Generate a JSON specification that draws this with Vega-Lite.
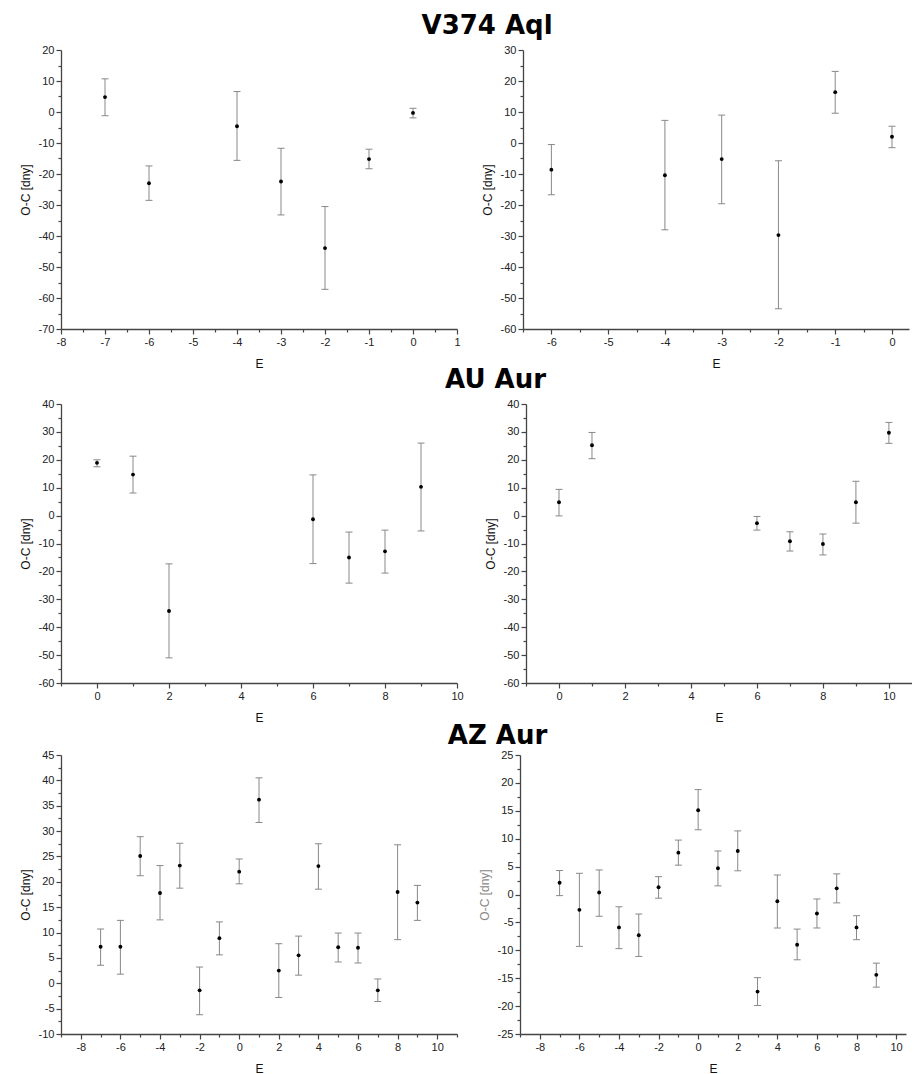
{
  "$schema": "https://vega.github.io/schema/vega-lite/v6.json",
  "padding": {"left": 19, "top": 13, "right": 0, "bottom": 0},
  "background": "white",
  "spacing": -2,
  "config": {
    "view": {"stroke": null},
    "font": "Liberation Sans",
    "axis": {
      "grid": false,
      "domainColor": "#444",
      "domainWidth": 1.3,
      "tickColor": "#444",
      "tickWidth": 1.2,
      "labelFont": "Liberation Sans",
      "labelFontSize": 11,
      "labelColor": "#222",
      "labelPadding": 2,
      "labelFlush": false,
      "labelOverlap": false,
      "titleFont": "Liberation Sans",
      "titleFontSize": 12,
      "titleFontWeight": "normal",
      "titleColor": "#111"
    },
    "axisY": {"titlePadding": 6},
    "axisX": {"titlePadding": 11},
    "title": {"font": "DejaVu Sans", "fontSize": 26, "fontWeight": "bold", "color": "#000", "anchor": "middle", "frame": "bounds", "offset": 5}
  },
  "datasets": {
    "oc": [
      {"star": "V374 Aql", "side": "L", "E": -7, "oc": 4.8, "lo": -1.2, "hi": 10.7},
      {"star": "V374 Aql", "side": "L", "E": -6, "oc": -23.0, "lo": -28.5, "hi": -17.4},
      {"star": "V374 Aql", "side": "L", "E": -4, "oc": -4.6, "lo": -15.6, "hi": 6.6},
      {"star": "V374 Aql", "side": "L", "E": -3, "oc": -22.4, "lo": -33.2, "hi": -11.7},
      {"star": "V374 Aql", "side": "L", "E": -2, "oc": -43.9, "lo": -57.2, "hi": -30.5},
      {"star": "V374 Aql", "side": "L", "E": -1, "oc": -15.2, "lo": -18.3, "hi": -12.0},
      {"star": "V374 Aql", "side": "L", "E": 0, "oc": -0.3, "lo": -1.9, "hi": 1.2},
      {"star": "V374 Aql", "side": "R", "E": -6, "oc": -8.6, "lo": -16.7, "hi": -0.5},
      {"star": "V374 Aql", "side": "R", "E": -4, "oc": -10.4, "lo": -28.0, "hi": 7.3},
      {"star": "V374 Aql", "side": "R", "E": -3, "oc": -5.2, "lo": -19.6, "hi": 9.0},
      {"star": "V374 Aql", "side": "R", "E": -2, "oc": -29.7, "lo": -53.5, "hi": -5.7},
      {"star": "V374 Aql", "side": "R", "E": -1, "oc": 16.4, "lo": 9.6, "hi": 23.1},
      {"star": "V374 Aql", "side": "R", "E": 0, "oc": 2.0, "lo": -1.5, "hi": 5.4},
      {"star": "AU Aur", "side": "L", "E": 0, "oc": 18.9, "lo": 17.5, "hi": 20.0},
      {"star": "AU Aur", "side": "L", "E": 1, "oc": 14.7, "lo": 8.1, "hi": 21.3},
      {"star": "AU Aur", "side": "L", "E": 2, "oc": -34.2, "lo": -51.0, "hi": -17.3},
      {"star": "AU Aur", "side": "L", "E": 6, "oc": -1.3, "lo": -17.2, "hi": 14.6},
      {"star": "AU Aur", "side": "L", "E": 7, "oc": -15.0, "lo": -24.2, "hi": -5.9},
      {"star": "AU Aur", "side": "L", "E": 8, "oc": -12.8, "lo": -20.6, "hi": -5.2},
      {"star": "AU Aur", "side": "L", "E": 9, "oc": 10.3, "lo": -5.5, "hi": 26.0},
      {"star": "AU Aur", "side": "R", "E": 0, "oc": 4.8, "lo": -0.1, "hi": 9.4},
      {"star": "AU Aur", "side": "R", "E": 1, "oc": 25.2, "lo": 20.4, "hi": 29.8},
      {"star": "AU Aur", "side": "R", "E": 6, "oc": -2.7, "lo": -5.2, "hi": -0.3},
      {"star": "AU Aur", "side": "R", "E": 7, "oc": -9.2, "lo": -12.7, "hi": -5.8},
      {"star": "AU Aur", "side": "R", "E": 8, "oc": -10.2, "lo": -14.1, "hi": -6.6},
      {"star": "AU Aur", "side": "R", "E": 9, "oc": 4.8, "lo": -2.7, "hi": 12.3},
      {"star": "AU Aur", "side": "R", "E": 10, "oc": 29.7, "lo": 25.9, "hi": 33.4},
      {"star": "AZ Aur", "side": "L", "E": -7, "oc": 7.2, "lo": 3.55, "hi": 10.7},
      {"star": "AZ Aur", "side": "L", "E": -6, "oc": 7.2, "lo": 1.8, "hi": 12.4},
      {"star": "AZ Aur", "side": "L", "E": -5, "oc": 25.1, "lo": 21.2, "hi": 28.9},
      {"star": "AZ Aur", "side": "L", "E": -4, "oc": 17.8, "lo": 12.5, "hi": 23.2},
      {"star": "AZ Aur", "side": "L", "E": -3, "oc": 23.2, "lo": 18.75, "hi": 27.6},
      {"star": "AZ Aur", "side": "L", "E": -2, "oc": -1.4, "lo": -6.2, "hi": 3.2},
      {"star": "AZ Aur", "side": "L", "E": -1, "oc": 8.9, "lo": 5.6, "hi": 12.1},
      {"star": "AZ Aur", "side": "L", "E": 0, "oc": 22.0, "lo": 19.6, "hi": 24.5},
      {"star": "AZ Aur", "side": "L", "E": 1, "oc": 36.2, "lo": 31.7, "hi": 40.5},
      {"star": "AZ Aur", "side": "L", "E": 2, "oc": 2.5, "lo": -2.8, "hi": 7.8},
      {"star": "AZ Aur", "side": "L", "E": 3, "oc": 5.5, "lo": 1.6, "hi": 9.3},
      {"star": "AZ Aur", "side": "L", "E": 4, "oc": 23.1, "lo": 18.55, "hi": 27.5},
      {"star": "AZ Aur", "side": "L", "E": 5, "oc": 7.1, "lo": 4.2, "hi": 9.9},
      {"star": "AZ Aur", "side": "L", "E": 6, "oc": 7.0, "lo": 4.0, "hi": 9.9},
      {"star": "AZ Aur", "side": "L", "E": 7, "oc": -1.4, "lo": -3.6, "hi": 0.85},
      {"star": "AZ Aur", "side": "L", "E": 8, "oc": 18.0, "lo": 8.6, "hi": 27.3},
      {"star": "AZ Aur", "side": "L", "E": 9, "oc": 15.9, "lo": 12.4, "hi": 19.3},
      {"star": "AZ Aur", "side": "R", "E": -7, "oc": 2.1, "lo": -0.2, "hi": 4.3},
      {"star": "AZ Aur", "side": "R", "E": -6, "oc": -2.75, "lo": -9.3, "hi": 3.8},
      {"star": "AZ Aur", "side": "R", "E": -5, "oc": 0.36, "lo": -3.9, "hi": 4.4},
      {"star": "AZ Aur", "side": "R", "E": -4, "oc": -5.9, "lo": -9.7, "hi": -2.2},
      {"star": "AZ Aur", "side": "R", "E": -3, "oc": -7.3, "lo": -11.1, "hi": -3.5},
      {"star": "AZ Aur", "side": "R", "E": -2, "oc": 1.3, "lo": -0.66, "hi": 3.2},
      {"star": "AZ Aur", "side": "R", "E": -1, "oc": 7.5, "lo": 5.26, "hi": 9.75},
      {"star": "AZ Aur", "side": "R", "E": 0, "oc": 15.1, "lo": 11.6, "hi": 18.8},
      {"star": "AZ Aur", "side": "R", "E": 1, "oc": 4.7, "lo": 1.55, "hi": 7.8},
      {"star": "AZ Aur", "side": "R", "E": 2, "oc": 7.8, "lo": 4.25, "hi": 11.4},
      {"star": "AZ Aur", "side": "R", "E": 3, "oc": -17.4, "lo": -19.9, "hi": -14.9},
      {"star": "AZ Aur", "side": "R", "E": 4, "oc": -1.2, "lo": -6.0, "hi": 3.5},
      {"star": "AZ Aur", "side": "R", "E": 5, "oc": -9.0, "lo": -11.7, "hi": -6.2},
      {"star": "AZ Aur", "side": "R", "E": 6, "oc": -3.4, "lo": -6.0, "hi": -0.8},
      {"star": "AZ Aur", "side": "R", "E": 7, "oc": 1.1, "lo": -1.5, "hi": 3.7},
      {"star": "AZ Aur", "side": "R", "E": 8, "oc": -5.9, "lo": -8.1, "hi": -3.8},
      {"star": "AZ Aur", "side": "R", "E": 9, "oc": -14.4, "lo": -16.6, "hi": -12.3}
    ]
  },
  "data": {"name": "oc"},
  "vconcat": [
    {
      "title": {"text": "V374 Aql", "anchor": "middle", "frame": "bounds", "dx": 23},
      "spacing": 20,
      "hconcat": [
        {
          "width": 396, "height": 279,
          "transform": [{"filter": "datum.star === 'V374 Aql' && datum.side === 'L'"}],
          "resolve": {"axis": {"y": "independent"}},
          "encoding": {
            "x": {"field": "E", "type": "quantitative", "title": "E",
              "scale": {"domain": [-8, 1], "nice": false, "zero": false},
              "axis": {"values": [-8,-7.5,-7,-6.5,-6,-5.5,-5,-4.5,-4,-3.5,-3,-2.5,-2,-1.5,-1,-0.5,0,0.5,1], "labelOverlap": false,
                "labelExpr": "datum.value % 1 === 0 ? '' + datum.value : ''",
                "tickSize": {"condition": {"test": "datum.value % 1 === 0", "value": 5}, "value": 3}}}
          },
          "layer": [
            {"mark": {"type": "rule", "color": "#888", "strokeWidth": 1},
             "encoding": {"y": {"field": "lo", "type": "quantitative", "title": "O-C [dny]",
               "scale": {"domain": [-70, 20], "nice": false, "zero": false},
               "axis": {"orient": "left", "values": [-70,-65,-60,-55,-50,-45,-40,-35,-30,-25,-20,-15,-10,-5,0,5,10,15,20], "labelOverlap": false,
                 "labelExpr": "datum.value % 10 === 0 ? '' + datum.value : ''",
                 "tickSize": {"condition": {"test": "datum.value % 10 === 0", "value": 5}, "value": 3}}},
               "y2": {"field": "hi"}}},
            {"mark": {"type": "tick", "orient": "horizontal", "color": "#888", "size": 7, "thickness": 1, "opacity": 1},
             "encoding": {"y": {"field": "lo", "type": "quantitative", "axis": null}}},
            {"mark": {"type": "tick", "orient": "horizontal", "color": "#888", "size": 7, "thickness": 1, "opacity": 1},
             "encoding": {"y": {"field": "hi", "type": "quantitative", "axis": null}}},
            {"mark": {"type": "point", "filled": true, "color": "#000", "size": 15, "opacity": 1},
             "encoding": {"y": {"field": "oc", "type": "quantitative", "axis": null}}}
          ]
        },
        {
          "width": 386, "height": 279,
          "transform": [{"filter": "datum.star === 'V374 Aql' && datum.side === 'R'"}],
          "resolve": {"axis": {"y": "independent"}},
          "encoding": {
            "x": {"field": "E", "type": "quantitative", "title": "E",
              "scale": {"domain": [-6.5, 0.3], "nice": false, "zero": false},
              "axis": {"values": [-6.5,-6,-5.5,-5,-4.5,-4,-3.5,-3,-2.5,-2,-1.5,-1,-0.5,0], "labelOverlap": false,
                "labelExpr": "datum.value % 1 === 0 ? '' + datum.value : ''",
                "tickSize": {"condition": {"test": "datum.value % 1 === 0", "value": 5}, "value": 3}}}
          },
          "layer": [
            {"mark": {"type": "rule", "color": "#888", "strokeWidth": 1},
             "encoding": {"y": {"field": "lo", "type": "quantitative", "title": "O-C [dny]",
               "scale": {"domain": [-60, 30], "nice": false, "zero": false},
               "axis": {"orient": "left", "values": [-60,-55,-50,-45,-40,-35,-30,-25,-20,-15,-10,-5,0,5,10,15,20,25,30], "labelOverlap": false,
                 "labelExpr": "datum.value % 10 === 0 ? '' + datum.value : ''",
                 "tickSize": {"condition": {"test": "datum.value % 10 === 0", "value": 5}, "value": 3}}},
               "y2": {"field": "hi"}}},
            {"mark": {"type": "tick", "orient": "horizontal", "color": "#888", "size": 7, "thickness": 1, "opacity": 1},
             "encoding": {"y": {"field": "lo", "type": "quantitative", "axis": null}}},
            {"mark": {"type": "tick", "orient": "horizontal", "color": "#888", "size": 7, "thickness": 1, "opacity": 1},
             "encoding": {"y": {"field": "hi", "type": "quantitative", "axis": null}}},
            {"mark": {"type": "point", "filled": true, "color": "#000", "size": 15, "opacity": 1},
             "encoding": {"y": {"field": "oc", "type": "quantitative", "axis": null}}}
          ]
        }
      ]
    },
    {
      "spacing": 0,
      "vconcat": [
        {
          "title": {"text": "AU Aur", "anchor": "middle", "frame": "bounds", "dx": 30},
          "spacing": 20,
          "hconcat": [
            {
              "width": 396, "height": 279,
              "transform": [{"filter": "datum.star === 'AU Aur' && datum.side === 'L'"}],
              "resolve": {"axis": {"y": "independent"}},
              "encoding": {
                "x": {"field": "E", "type": "quantitative", "title": "E",
                  "scale": {"domain": [-1, 10], "nice": false, "zero": false},
                  "axis": {"values": [-1,0,1,2,3,4,5,6,7,8,9,10], "labelOverlap": false,
                    "labelExpr": "datum.value % 2 === 0 ? '' + datum.value : ''",
                    "tickSize": {"condition": {"test": "datum.value % 2 === 0", "value": 5}, "value": 3}}}
              },
              "layer": [
                {"mark": {"type": "rule", "color": "#888", "strokeWidth": 1},
                 "encoding": {"y": {"field": "lo", "type": "quantitative", "title": "O-C [dny]",
                   "scale": {"domain": [-60, 40], "nice": false, "zero": false},
                   "axis": {"orient": "left", "values": [-60,-55,-50,-45,-40,-35,-30,-25,-20,-15,-10,-5,0,5,10,15,20,25,30,35,40], "labelOverlap": false,
                     "labelExpr": "datum.value % 10 === 0 ? '' + datum.value : ''",
                     "tickSize": {"condition": {"test": "datum.value % 10 === 0", "value": 5}, "value": 3}}},
                   "y2": {"field": "hi"}}},
                {"mark": {"type": "tick", "orient": "horizontal", "color": "#888", "size": 7, "thickness": 1, "opacity": 1},
                 "encoding": {"y": {"field": "lo", "type": "quantitative", "axis": null}}},
                {"mark": {"type": "tick", "orient": "horizontal", "color": "#888", "size": 7, "thickness": 1, "opacity": 1},
                 "encoding": {"y": {"field": "hi", "type": "quantitative", "axis": null}}},
                {"mark": {"type": "point", "filled": true, "color": "#000", "size": 15, "opacity": 1},
                 "encoding": {"y": {"field": "oc", "type": "quantitative", "axis": null}}}
              ]
            },
            {
              "width": 386, "height": 279,
              "transform": [{"filter": "datum.star === 'AU Aur' && datum.side === 'R'"}],
              "resolve": {"axis": {"y": "independent"}},
              "encoding": {
                "x": {"field": "E", "type": "quantitative", "title": "E",
                  "scale": {"domain": [-1, 10.7], "nice": false, "zero": false},
                  "axis": {"values": [-1,0,1,2,3,4,5,6,7,8,9,10], "labelOverlap": false,
                    "labelExpr": "datum.value % 2 === 0 ? '' + datum.value : ''",
                    "tickSize": {"condition": {"test": "datum.value % 2 === 0", "value": 5}, "value": 3}}}
              },
              "layer": [
                {"mark": {"type": "rule", "color": "#888", "strokeWidth": 1},
                 "encoding": {"y": {"field": "lo", "type": "quantitative", "title": "O-C [dny]",
                   "scale": {"domain": [-60, 40], "nice": false, "zero": false},
                   "axis": {"orient": "left", "values": [-60,-55,-50,-45,-40,-35,-30,-25,-20,-15,-10,-5,0,5,10,15,20,25,30,35,40], "labelOverlap": false,
                     "labelExpr": "datum.value % 10 === 0 ? '' + datum.value : ''",
                     "tickSize": {"condition": {"test": "datum.value % 10 === 0", "value": 5}, "value": 3}}},
                   "y2": {"field": "hi"}}},
                {"mark": {"type": "tick", "orient": "horizontal", "color": "#888", "size": 7, "thickness": 1, "opacity": 1},
                 "encoding": {"y": {"field": "lo", "type": "quantitative", "axis": null}}},
                {"mark": {"type": "tick", "orient": "horizontal", "color": "#888", "size": 7, "thickness": 1, "opacity": 1},
                 "encoding": {"y": {"field": "hi", "type": "quantitative", "axis": null}}},
                {"mark": {"type": "point", "filled": true, "color": "#000", "size": 15, "opacity": 1},
                 "encoding": {"y": {"field": "oc", "type": "quantitative", "axis": null}}}
              ]
            }
          ]
        },
        {
          "title": {"text": "AZ Aur", "anchor": "middle", "frame": "bounds", "dx": 35, "dy": 5},
          "spacing": 20,
          "hconcat": [
            {
              "width": 396, "height": 279,
              "transform": [{"filter": "datum.star === 'AZ Aur' && datum.side === 'L'"}],
              "resolve": {"axis": {"y": "independent"}},
              "encoding": {
                "x": {"field": "E", "type": "quantitative", "title": "E",
                  "scale": {"domain": [-9, 11], "nice": false, "zero": false},
                  "axis": {"values": [-9,-8,-7,-6,-5,-4,-3,-2,-1,0,1,2,3,4,5,6,7,8,9,10,11], "labelOverlap": false,
                    "labelExpr": "datum.value % 2 === 0 ? '' + datum.value : ''",
                    "tickSize": {"condition": {"test": "datum.value % 2 === 0", "value": 5}, "value": 3}}}
              },
              "layer": [
                {"mark": {"type": "rule", "color": "#888", "strokeWidth": 1},
                 "encoding": {"y": {"field": "lo", "type": "quantitative", "title": "O-C [dny]",
                   "scale": {"domain": [-10, 45], "nice": false, "zero": false},
                   "axis": {"orient": "left", "values": [-10,-7.5,-5,-2.5,0,2.5,5,7.5,10,12.5,15,17.5,20,22.5,25,27.5,30,32.5,35,37.5,40,42.5,45], "labelOverlap": false,
                     "labelExpr": "datum.value % 5 === 0 ? '' + datum.value : ''",
                     "tickSize": {"condition": {"test": "datum.value % 5 === 0", "value": 5}, "value": 3}}},
                   "y2": {"field": "hi"}}},
                {"mark": {"type": "tick", "orient": "horizontal", "color": "#888", "size": 7, "thickness": 1, "opacity": 1},
                 "encoding": {"y": {"field": "lo", "type": "quantitative", "axis": null}}},
                {"mark": {"type": "tick", "orient": "horizontal", "color": "#888", "size": 7, "thickness": 1, "opacity": 1},
                 "encoding": {"y": {"field": "hi", "type": "quantitative", "axis": null}}},
                {"mark": {"type": "point", "filled": true, "color": "#000", "size": 15, "opacity": 1},
                 "encoding": {"y": {"field": "oc", "type": "quantitative", "axis": null}}}
              ]
            },
            {
              "width": 386, "height": 279,
              "transform": [{"filter": "datum.star === 'AZ Aur' && datum.side === 'R'"}],
              "resolve": {"axis": {"y": "independent"}},
              "encoding": {
                "x": {"field": "E", "type": "quantitative", "title": "E",
                  "scale": {"domain": [-9, 10.5], "nice": false, "zero": false},
                  "axis": {"values": [-9,-8,-7,-6,-5,-4,-3,-2,-1,0,1,2,3,4,5,6,7,8,9,10], "labelOverlap": false,
                    "labelExpr": "datum.value % 2 === 0 ? '' + datum.value : ''",
                    "tickSize": {"condition": {"test": "datum.value % 2 === 0", "value": 5}, "value": 3}}}
              },
              "layer": [
                {"mark": {"type": "rule", "color": "#888", "strokeWidth": 1},
                 "encoding": {"y": {"field": "lo", "type": "quantitative", "title": "O-C [dny]",
                   "scale": {"domain": [-25, 25], "nice": false, "zero": false},
                   "axis": {"orient": "left", "values": [-25,-22.5,-20,-17.5,-15,-12.5,-10,-7.5,-5,-2.5,0,2.5,5,7.5,10,12.5,15,17.5,20,22.5,25], "labelOverlap": false,
                     "labelExpr": "datum.value % 5 === 0 ? '' + datum.value : ''",
                     "titleColor": "#888",
                     "tickSize": {"condition": {"test": "datum.value % 5 === 0", "value": 5}, "value": 3}}},
                   "y2": {"field": "hi"}}},
                {"mark": {"type": "tick", "orient": "horizontal", "color": "#888", "size": 7, "thickness": 1, "opacity": 1},
                 "encoding": {"y": {"field": "lo", "type": "quantitative", "axis": null}}},
                {"mark": {"type": "tick", "orient": "horizontal", "color": "#888", "size": 7, "thickness": 1, "opacity": 1},
                 "encoding": {"y": {"field": "hi", "type": "quantitative", "axis": null}}},
                {"mark": {"type": "point", "filled": true, "color": "#000", "size": 15, "opacity": 1},
                 "encoding": {"y": {"field": "oc", "type": "quantitative", "axis": null}}}
              ]
            }
          ]
        }
      ]
    }
  ]
}
